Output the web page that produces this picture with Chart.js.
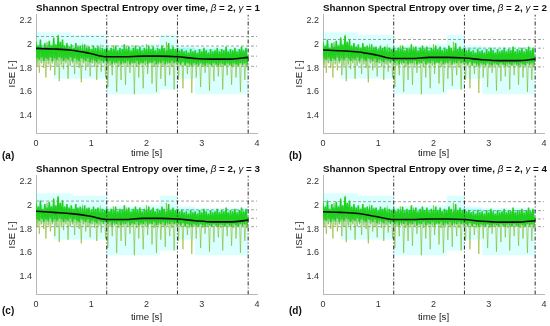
<!DOCTYPE html>
<html>
<head>
<meta charset="utf-8">
<script src="https://cdn.jsdelivr.net/npm/chart.js@4.4.0/dist/chart.umd.min.js"></script>
<style>
body { margin: 0; background: #fff; width: 550px; height: 326px; overflow: hidden; position: relative; font-family: "Liberation Sans", Arial, sans-serif; }
canvas { position: absolute; }
.ttl { position: absolute; width: 222px; text-align: center; font-weight: bold; font-size: 9.8px; line-height: 11px; white-space: nowrap; color: #111; }
.ttl i { font-weight: normal; }
.tag { position: absolute; font-weight: bold; font-size: 10px; line-height: 10px; color: #111; }
</style>
</head>
<body>
<canvas id="c-a" width="270" height="163" style="left:0;top:0"></canvas>
<canvas id="c-b" width="270" height="163" style="left:287px;top:0"></canvas>
<canvas id="c-c" width="270" height="163" style="left:0;top:161px"></canvas>
<canvas id="c-d" width="270" height="163" style="left:287px;top:161px"></canvas>

<div class="ttl" style="left:36px;top:2px">Shannon Spectral Entropy over time, <i>β</i> = 2, <i>γ</i> = 1</div>
<div class="ttl" style="left:323px;top:2px">Shannon Spectral Entropy over time, <i>β</i> = 2, <i>γ</i> = 2</div>
<div class="ttl" style="left:36px;top:163px">Shannon Spectral Entropy over time, <i>β</i> = 2, <i>γ</i> = 3</div>
<div class="ttl" style="left:323px;top:163px">Shannon Spectral Entropy over time, <i>β</i> = 2, <i>γ</i> = 4</div>

<div class="tag" style="left:2px;top:151px">(a)</div>
<div class="tag" style="left:289px;top:151px">(b)</div>
<div class="tag" style="left:2px;top:306px">(c)</div>
<div class="tag" style="left:289px;top:306px">(d)</div>

<script>
// ---- data ----
const xTicks = [0, 1, 2, 3, 4];
const yTicks = [1.4, 1.6, 1.8, 2, 2.2];
const yMin = 1.25, yMax = 2.25;
const sampleDt = 0.02;

// dense filtered entropy (bright green)
const greenBand = [
  2.02,1.88,1.99,1.87,2.04,1.89,1.97,1.86,2.01,1.88,1.98,1.87,2.03,1.89,1.99,1.86,
  2.05,1.88,2.00,1.87,2.07,1.89,2.02,1.88,2.04,1.86,1.99,1.88,2.01,1.87,1.98,1.89,
  2.00,1.86,1.97,1.88,2.01,1.87,1.98,1.86,1.99,1.88,1.96,1.87,2.00,1.86,1.97,1.88,
  1.98,1.85,1.96,1.87,1.99,1.86,1.97,1.85,1.98,1.87,1.95,1.86,1.97,1.85,1.96,1.86,
  1.98,1.84,1.95,1.86,1.97,1.83,1.96,1.85,1.99,1.84,1.95,1.86,1.97,1.83,1.96,1.85,
  2.00,1.84,1.96,1.86,1.98,1.83,1.95,1.85,1.97,1.84,1.99,1.86,1.96,1.83,1.98,1.85,
  1.95,1.84,1.97,1.86,1.96,1.83,1.99,1.85,1.96,1.84,1.98,1.86,1.95,1.83,1.97,1.85,
  1.96,1.84,1.99,1.86,1.97,1.83,1.95,1.85,2.01,1.84,1.96,1.86,1.98,1.84,1.96,1.85,
  1.97,1.84,1.95,1.83,1.96,1.85,1.94,1.82,1.95,1.84,1.93,1.83,1.96,1.82,1.94,1.84,
  1.95,1.83,1.93,1.82,1.96,1.84,1.94,1.83,1.97,1.82,1.95,1.84,1.93,1.83,1.96,1.82,
  1.94,1.84,1.95,1.83,1.97,1.82,1.94,1.84,1.96,1.83,1.95,1.82,1.98,1.84,1.94,1.83,
  1.96,1.82,1.95,1.84,1.97,1.83,1.94,1.82,1.96,1.84,1.98,1.83,1.95,1.84,1.97,1.85,
  1.90
];

// raw entropy with spikes (olive)
const olivePeaks = [
  1.92,1.82,1.93,1.76,1.91,1.84,1.95,1.80,1.92,1.72,2.02,1.83,1.93,1.78,1.90,1.84,
  2.06,1.74,1.92,1.82,2.08,1.69,1.93,1.83,1.91,1.79,1.94,1.84,1.92,1.71,1.90,1.82,
  1.93,1.84,1.91,1.75,2.00,1.83,1.92,1.80,1.90,1.68,1.93,1.84,1.91,1.78,1.98,1.82,
  1.92,1.73,1.90,1.84,1.93,1.81,1.91,1.70,1.94,1.83,1.90,1.77,1.92,1.84,1.91,1.72,
  1.90,1.64,1.92,1.82,1.89,1.74,1.99,1.83,1.90,1.60,1.91,1.81,1.89,1.70,1.92,1.83,
  1.90,1.66,1.98,1.82,1.91,1.76,1.89,1.83,1.92,1.58,1.90,1.81,1.93,1.72,1.89,1.83,
  1.91,1.63,1.90,1.82,2.00,1.75,1.89,1.84,1.92,1.67,1.90,1.81,1.91,1.60,1.89,1.83,
  1.93,1.71,1.90,1.82,1.91,1.65,2.02,1.83,1.89,1.74,1.91,1.81,1.90,1.62,1.92,1.83,
  1.90,1.70,1.91,1.82,1.89,1.63,1.92,1.83,1.90,1.75,1.88,1.81,1.91,1.59,1.89,1.82,
  1.90,1.72,1.92,1.83,1.89,1.64,1.90,1.81,1.91,1.76,1.88,1.82,1.90,1.61,1.91,1.83,
  1.89,1.69,1.92,1.82,1.90,1.73,1.88,1.81,1.91,1.62,1.89,1.83,1.90,1.74,1.92,1.82,
  1.89,1.66,1.91,1.81,1.90,1.72,1.88,1.83,1.92,1.60,1.90,1.82,1.91,1.70,1.90,1.81,
  1.90
];

// cyan window bands
const winStart = [0, 0.32, 0.64, 0.96, 1.28, 1.6, 1.92, 2.24, 2.56, 2.88, 3.2, 3.52, 3.84];
const outerHi = [2.10, 2.10, 2.08, 2.08, 1.99, 1.99, 2.00, 2.08, 1.99, 1.98, 1.98, 1.98];
const outerLo = [1.84, 1.71, 1.71, 1.71, 1.58, 1.58, 1.58, 1.62, 1.71, 1.58, 1.58, 1.58];
const innerHi = [2.00, 1.99, 1.98, 1.97, 1.97, 1.97, 1.97, 1.97, 1.97, 1.96, 1.96, 1.96];
const innerLo = [1.86, 1.86, 1.85, 1.84, 1.84, 1.84, 1.84, 1.84, 1.84, 1.83, 1.83, 1.83];

// smoothed trend (black)
const trendT = [0, 0.32, 0.64, 0.96, 1.28, 1.6, 1.92, 2.24, 2.56, 2.88, 3.2, 3.52, 3.84];
const trendA = [1.965, 1.96, 1.95, 1.925, 1.895, 1.895, 1.90, 1.90, 1.895, 1.88, 1.875, 1.875, 1.89];
const trendB = [1.952, 1.945, 1.935, 1.91, 1.88, 1.88, 1.89, 1.89, 1.885, 1.87, 1.862, 1.862, 1.875];
const trendC = [1.95, 1.94, 1.93, 1.91, 1.88, 1.88, 1.89, 1.89, 1.885, 1.87, 1.86, 1.86, 1.875];
const trendD = [1.945, 1.94, 1.93, 1.905, 1.88, 1.88, 1.885, 1.885, 1.88, 1.865, 1.858, 1.858, 1.87];

// horizontal reference levels
const levelsA = [2.065, 1.985, 1.90, 1.815];
const levelsB = [2.04, 1.967, 1.885, 1.81];
const levelsC = [2.035, 1.962, 1.89, 1.82];
const levelsD = [2.03, 1.955, 1.885, 1.82];

// segment boundaries
const segEdges = [1.28, 2.56, 3.84];

// ---- helpers ----
const FONT = '"Liberation Sans", Arial, sans-serif';
const sampleT = greenBand.map((_, i) => +(i * sampleDt).toFixed(3));
const pts = (xs, ys) => ys.map((y, i) => ({ x: xs[i], y: y }));
// each window value held flat from its start to the next window start
const stepPts = arr => arr.flatMap((v, i) => [{ x: winStart[i], y: v }, { x: winStart[i + 1], y: v }]);

function makeChart(id, trend, levels, xTitlePad) {
    const ds = [];
    ds.push({ data: stepPts(outerHi), borderWidth: 0, fill: '+1', backgroundColor: 'rgba(0,255,255,0.15)', order: 9 });
    ds.push({ data: stepPts(outerLo), borderWidth: 0, fill: false, order: 9 });
    ds.push({ data: stepPts(innerHi), borderWidth: 0, fill: '+1', backgroundColor: 'rgba(0,225,225,0.25)', order: 8 });
    ds.push({ data: stepPts(innerLo), borderWidth: 0, fill: false, order: 8 });
    levels.forEach(v => ds.push({
        data: [{ x: 0, y: v }, { x: 4, y: v }],
        borderColor: '#8a8a8a', borderWidth: 0.8, borderDash: [3, 2], order: 7
    }));
    ds.push({ data: pts(sampleT, olivePeaks), borderColor: 'rgba(130,178,25,0.72)', borderWidth: 0.8, order: 6 });
    ds.push({ data: pts(sampleT, greenBand), borderColor: '#1fd01c', borderWidth: 1.5, order: 5 });
    ds.push({ data: pts(trendT, trend), borderColor: '#0a0a0a', borderWidth: 1.6, cubicInterpolationMode: 'monotone', order: 4 });
    segEdges.forEach(t => ds.push({
        data: [{ x: t, y: yMin }, { x: t, y: yMax }],
        borderColor: '#2a2a2a', borderWidth: 1, borderDash: [4, 2, 1, 2], order: 3
    }));

    return new Chart(document.getElementById(id), {
        type: 'line',
        data: { datasets: ds },
        options: {
            responsive: false,
            animation: false,
            events: [],
            elements: { point: { radius: 0 }, line: { tension: 0 } },
            layout: { padding: { left: 0, top: 14.5, right: 13, bottom: 0 } },
            plugins: { legend: { display: false }, tooltip: { enabled: false } },
            scales: {
                x: {
                    type: 'linear', min: 0, max: 4,
                    border: { display: true, color: '#b8b8b8', width: 1 },
                    grid: { display: false, drawTicks: false },
                    ticks: { padding: 5, color: '#333', font: { family: FONT, size: 9 }, maxRotation: 0 },
                    afterBuildTicks: s => { s.ticks = xTicks.map(v => ({ value: v })); },
                    title: { display: true, text: 'time [s]', color: '#222', font: { family: FONT, size: 9.7 }, padding: { top: 0, bottom: xTitlePad } },
                    afterFit: s => { s.height = 29.5; }
                },
                y: {
                    type: 'linear', min: yMin, max: yMax,
                    border: { display: true, color: '#b8b8b8', width: 1 },
                    grid: { display: false, drawTicks: false },
                    ticks: { padding: 4, color: '#333', font: { family: FONT, size: 9 },
                             callback: v => String(+(+v).toFixed(1)) },
                    afterBuildTicks: s => { s.ticks = yTicks.map(v => ({ value: v })); },
                    title: { display: true, text: 'ISE [-]', color: '#222', font: { family: FONT, size: 9.7 }, padding: { top: 7, bottom: 0 } },
                    afterFit: s => { s.width = 36; }
                }
            }
        }
    });
}

makeChart('c-a', trendA, levelsA, 4);
makeChart('c-b', trendB, levelsB, 4);
makeChart('c-c', trendC, levelsC, 1);
makeChart('c-d', trendD, levelsD, 1);
</script>
</body>
</html>
